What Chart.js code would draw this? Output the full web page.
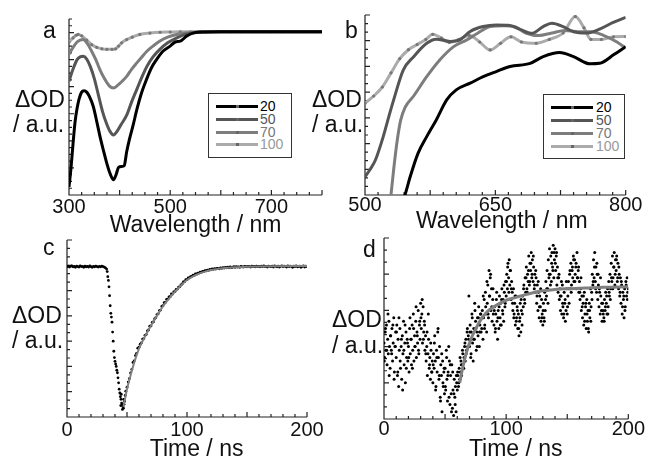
<!DOCTYPE html>
<html><head><meta charset="utf-8">
<script src="https://cdn.jsdelivr.net/npm/chart.js@4.4.1/dist/chart.umd.min.js"></script>
<style>
html,body{margin:0;padding:0;width:645px;height:459px;overflow:hidden;background:#fff;}
body{position:relative;font-family:"Liberation Sans",Arial,Helvetica,sans-serif;color:#111;}
canvas{position:absolute;}
.lbl{position:absolute;font-size:23px;line-height:23px;white-space:nowrap;}
.legend{position:absolute;border:1px solid #333;box-sizing:border-box;background:#fff;}
.row{position:absolute;left:0;height:13px;width:100%;}
.row .ln{position:absolute;width:42px;height:3px;top:5px;}
.row .dot{position:absolute;width:3px;height:3px;top:5px;background:#666;}
.row .tx{position:absolute;top:0;font-size:14px;line-height:13px;}
</style></head><body>
<canvas id="ca" width="330" height="240" style="left:0;top:0"></canvas>
<canvas id="cb" width="315" height="240" style="left:330px;top:0"></canvas>
<canvas id="cc" width="330" height="240" style="left:0;top:232px"></canvas>
<canvas id="cd" width="325" height="240" style="left:320px;top:232px"></canvas>

<div class="lbl" style="left:43px;top:18.5px">a</div>
<div class="lbl" style="left:15px;top:87.5px">ΔOD</div>
<div class="lbl" style="left:13px;top:112.5px">/ a.u.</div>

<div class="lbl" style="left:345px;top:18.5px">b</div>
<div class="lbl" style="left:312px;top:87.5px">ΔOD</div>
<div class="lbl" style="left:312px;top:112.5px">/ a.u.</div>

<div class="lbl" style="left:43px;top:235.5px">c</div>
<div class="lbl" style="left:12px;top:303.5px">ΔOD</div>
<div class="lbl" style="left:12px;top:328.5px">/ a.u.</div>

<div class="lbl" style="left:363px;top:237.5px">d</div>
<div class="lbl" style="left:332px;top:307.5px">ΔOD</div>
<div class="lbl" style="left:332px;top:333.5px">/ a.u.</div>

<div class="legend" id="legA" style="left:208px;top:93px;width:84px;height:65px"></div>
<div class="legend" id="legB" style="left:543px;top:94px;width:82px;height:65px"></div>

<script>
// ---------- series names / colours ----------
const seriesNames = ['20', '50', '70', '100'];
const seriesColors = ['#000000', '#555555', '#7d7d7d', '#ababab'];
const legendTextColors = ['#000000', '#555555', '#777777', '#999999'];

// ---------- panel a : wavelength 300-800 nm ----------
const a20_wl = [300,304,308,312,316,320,325,330,335,340,348,355,362,368,375,382,388,393,398,404,409,414,420,427,434,443,453,463,473,485,500,510,520,532,545,570,600,650,700,750,800];
const a20_od = [0.3,1.0,1.9,2.7,3.2,3.55,3.8,3.85,3.8,3.65,3.27,2.7,2.1,1.65,1.15,0.75,0.56,0.75,1.02,1.05,1.08,1.6,2.1,2.6,3.15,3.75,4.26,4.7,5.0,5.3,5.5,5.65,5.68,5.86,5.98,6.02,6.03,6.03,6.03,6.03,6.03];
const a50_wl = [300,308,316,322,328,335,342,350,358,366,374,381,388,395,403,414,424,434,444,454,466,479,495,513,530,550,580,620,700,800];
const a50_od = [4.2,4.65,5.0,5.1,5.12,5.02,4.75,4.3,3.7,3.1,2.65,2.35,2.22,2.35,2.6,2.95,3.45,3.9,4.35,4.75,5.1,5.37,5.62,5.8,5.93,6.0,6.03,6.03,6.03,6.03];
const a70_wl = [300,308,316,322,328,336,345,353,361,370,380,388,396,405,414,424,434,444,454,466,479,495,513,535,560,600,700,800];
const a70_od = [5.2,5.45,5.65,5.72,5.74,5.6,5.3,5.0,4.63,4.3,4.02,3.95,4.05,4.2,4.38,4.65,4.88,5.1,5.31,5.5,5.68,5.83,5.93,5.99,6.02,6.03,6.03,6.03];
const a100_wl = [300,308,314,318,325,335,345,355,365,375,385,392,398,404,414,425,440,460,480,500,520,540,560,580,600,620,640,660,680,700,720,740,760,780,800];
const a100_od = [5.65,5.8,5.9,5.93,5.88,5.72,5.55,5.45,5.4,5.38,5.38,5.4,5.5,5.62,5.74,5.83,5.93,5.98,6.01,6.02,6.03,6.03,6.03,6.03,6.03,6.03,6.03,6.03,6.03,6.03,6.03,6.03,6.03,6.03,6.03];
const aTickLabels = [300, 500, 700];

// ---------- panel b : wavelength 500-800 nm ----------
const b20_wl = [540,546,552,561,571,582,594,605,621,636,651,667,690,705,724,740,759,770,786,800];
const b20_od = [-0.6,0,0.71,1.62,2.27,2.92,3.7,4.09,4.35,4.6,4.8,5.0,5.12,5.38,5.54,5.38,5.1,5.12,5.45,5.77];
const b50_wl = [500,506,512,521,527,533,544,556,571,582,598,609,621,636,651,665,678,692,705,715,728,740,755,770,785,800];
const b50_od = [0.71,1.0,1.36,2.27,3.0,3.7,4.86,5.38,5.9,6.06,5.97,6.03,6.36,6.55,6.61,6.6,6.45,6.29,6.55,6.68,6.55,6.35,6.3,6.45,6.7,6.91];
const b70_wl = [529,533,537,541,546,556,571,586,602,617,630,644,660,672,685,700,715,730,745,760,775,790,800];
const b70_od = [-0.3,1.0,2.1,2.9,3.4,3.85,4.6,5.25,5.77,6.03,6.3,6.55,6.58,6.55,6.3,6.2,6.3,6.4,6.35,6.35,6.2,5.95,5.71];
const b100_wl = [500,510,520,530,540,550,560,570,578,588,597,608,620,632,644,656,668,680,697,712,728,742,752,760,772,786,800];
const b100_od = [3.57,3.85,4.2,4.75,5.3,5.65,5.85,6.05,6.25,6.1,5.93,6.05,6.2,5.95,5.64,5.9,6.15,5.95,5.9,6.05,6.3,6.94,6.5,6.05,6.05,6.15,6.16];
const bTickLabels = [500, 650, 800];

// ---------- panel c : kinetic trace (1 ns sampling, 0-200 ns) ----------
const cStep = 1;
const cSignal = [
5.95,5.97,5.93,5.96,5.98,5.94,5.96,5.92,5.97,5.95,
5.93,5.98,5.95,5.96,5.92,5.97,5.94,5.96,5.93,5.98,
5.95,5.92,5.96,5.94,5.97,5.95,5.93,5.96,5.94,5.97,
5.95,5.93,5.9,5.85,5.55,5.15,4.4,3.95,3.36,2.6,
2.2,2.0,1.75,1.35,0.95,0.7,0.5,0.35,0.62,1.02,
1.18,1.38,1.52,1.74,1.88,2.16,2.22,2.43,2.52,2.72,
2.76,2.88,2.93,3.08,3.1,3.23,3.26,3.41,3.44,3.59,
3.6,3.74,3.76,3.88,3.93,4.05,4.08,4.21,4.23,4.37,
4.4,4.52,4.53,4.65,4.66,4.75,4.76,4.87,4.86,4.95,
4.96,5.05,5.06,5.14,5.15,5.22,5.26,5.34,5.35,5.43,
5.43,5.5,5.5,5.55,5.56,5.61,5.6,5.66,5.65,5.69,
5.69,5.73,5.72,5.76,5.75,5.79,5.78,5.81,5.8,5.84,
5.82,5.86,5.84,5.87,5.85,5.88,5.87,5.86,5.9,5.88,
5.91,5.89,5.92,5.9,5.93,5.9,5.94,5.91,5.92,5.95,
5.92,5.95,5.93,5.94,5.92,5.96,5.94,5.93,5.96,5.95,
5.94,5.96,5.95,5.93,5.97,5.95,5.96,5.94,5.97,5.95,
5.96,5.94,5.97,5.95,5.98,5.95,5.96,5.93,5.97,5.96,
5.95,5.97,5.93,5.98,5.96,5.94,5.97,5.93,5.96,5.98,
5.95,5.97,5.96,5.93,5.98,5.95,5.97,5.96,5.92,5.97,
5.95,5.98,5.94,5.96,5.97,5.92,5.96,5.98,5.93,5.97,5.95];
const cDropTime = [33.5,34.5,35.5,36.5,37.5,38.5,39.5,40.5,41.5,42.5,43.5,44.5,45.5,46.5,47.5,48.5,45.2,46.2,47.2,44.8];
const cDropSignal = [5.75,5.4,4.8,4.1,3.75,3.0,2.35,2.1,1.85,1.55,1.1,0.8,0.55,0.42,0.5,0.85,0.9,0.3,0.7,0.45];
const cFitTime = [47,50,53,56,60,64,68,72,76,80,85,90,95,100,105,110,115,120,130,140,150,170,200];
const cFitSignal = [0.4,1.1,1.65,2.15,2.7,3.1,3.45,3.78,4.08,4.38,4.68,4.96,5.2,5.42,5.56,5.67,5.75,5.81,5.88,5.92,5.94,5.96,5.97];
const timeTickLabels = [0, 100, 200];

// ---------- panel d : kinetic trace (0.5 ns sampling, 0-200 ns) ----------
const dStep = 0.5;
const dSignal = [
2.1,1.7,2.4,1.9,2.6,1.5,2.2,1.8,2.7,2.0,1.4,2.3,1.9,2.5,1.6,2.1,2.8,1.3,2.0,2.4,
1.7,2.6,1.2,2.2,0.9,1.9,2.5,1.4,2.0,1.1,2.3,1.8,2.7,1.5,2.1,1.0,2.4,1.7,2.2,1.6,
2.0,1.3,2.5,1.8,2.2,1.5,2.6,1.9,2.9,1.6,2.3,2.0,2.7,1.7,2.4,2.1,3.0,1.8,2.6,2.2,
3.2,2.5,2.9,2.1,3.1,2.4,2.7,1.9,2.3,1.6,2.0,1.2,1.8,2.2,1.4,1.7,1.1,1.9,1.3,1.6,
1.0,1.8,1.4,2.3,1.6,0.9,1.9,1.3,2.4,1.7,1.1,2.0,0.6,1.5,1.2,0.2,1.6,0.9,1.3,0.7,
1.4,0.8,1.9,1.1,0.5,1.3,2.0,1.6,0.4,1.2,0.7,1.5,0.3,0.8,0.1,1.1,0.6,0.9,0.2,1.0,
0.8,1.2,0.9,1.4,1.1,1.3,1.6,1.2,1.5,1.8,1.4,1.7,2.0,1.6,2.2,1.9,2.4,2.0,2.3,3.4,
2.0,2.6,1.7,2.4,2.9,2.1,1.6,2.5,2.2,3.0,2.7,1.9,2.4,2.8,2.3,3.1,2.0,2.6,2.9,2.4,
2.5,3.0,2.2,2.8,3.3,2.6,3.5,2.9,2.4,3.2,3.7,2.8,4.1,3.4,3.9,3.0,3.6,2.7,3.3,2.9,
2.6,3.1,2.4,2.9,3.3,2.7,2.2,3.0,2.5,3.4,2.8,3.2,2.6,3.6,3.0,3.3,2.7,3.5,3.1,3.8,
3.4,4.0,3.6,4.3,3.9,4.4,3.7,4.1,3.3,3.8,3.5,3.0,3.6,2.9,3.2,2.6,3.4,2.8,3.1,2.5,
2.9,2.3,2.7,3.2,2.4,3.0,2.6,3.4,3.1,3.7,3.3,3.9,3.5,4.2,3.6,4.0,3.8,4.5,3.7,4.3,
4.1,4.6,3.9,4.4,3.8,4.2,3.6,4.0,3.5,3.9,3.2,3.7,3.0,3.5,2.8,3.4,3.1,2.7,3.3,2.9,
2.6,3.2,2.8,3.5,3.0,3.8,3.4,4.1,3.6,4.4,3.9,4.7,4.0,4.5,3.8,4.6,4.2,4.8,3.9,4.4,
4.7,4.1,4.5,3.7,4.2,3.5,3.9,3.3,3.6,3.0,3.4,2.9,3.7,3.1,2.8,3.5,3.2,2.7,3.0,3.6,
2.9,3.4,3.8,3.2,4.0,3.6,4.3,3.7,4.1,3.9,4.5,3.8,4.4,4.0,4.2,3.6,4.6,3.9,4.1,3.5,
3.8,3.3,3.6,3.0,3.4,2.8,3.2,2.6,3.5,2.9,3.1,2.5,3.3,2.7,3.0,2.4,3.2,2.8,3.6,3.1,
3.5,4.0,3.7,4.4,3.9,4.6,3.8,4.2,3.5,4.0,3.3,3.7,3.1,3.5,2.9,3.4,3.0,2.7,3.2,2.9,
2.8,3.3,3.0,3.5,3.2,2.9,3.6,3.1,3.8,3.4,4.0,3.6,4.3,3.8,4.5,3.9,4.2,4.6,3.7,4.4,
4.1,4.5,3.8,4.3,3.6,4.0,3.4,3.9,3.2,3.7,2.9,3.5,3.3,2.8,3.6,3.1,3.8,3.4,3.9,3.5,
3.6];
// second interleaved read-out of the same trace (t = 0.25, 1.25, ... ns)
const dStart2 = 0.25;
const dStep2 = 1;
const dSignal2 = [
1.6,2.5,1.9,2.9,1.2,2.3,1.8,2.6,1.1,2.0,
2.4,1.3,2.8,1.6,2.2,0.8,1.9,2.6,1.4,2.1,
1.7,2.8,2.2,1.4,2.5,2.0,3.1,2.3,1.9,2.7,
2.8,3.3,2.2,2.6,1.8,2.4,2.9,1.5,2.1,1.3,
1.5,2.1,0.8,1.7,2.5,1.2,0.5,1.8,1.0,1.4,
0.9,1.7,1.2,0.6,1.5,0.2,1.3,0.7,0.4,1.2,
1.3,1.0,1.7,1.5,1.9,1.4,2.1,1.8,2.5,2.2,
2.4,1.8,2.8,2.2,3.2,2.5,2.0,2.8,2.4,2.9,
2.8,3.4,2.5,3.1,3.8,2.9,3.4,4.0,3.1,3.6,
3.0,2.5,3.5,2.8,3.1,2.6,3.3,2.9,3.7,3.2,
3.8,4.2,3.5,4.1,3.6,3.2,2.8,3.4,2.7,3.0,
2.5,2.8,3.3,2.9,3.6,3.2,3.9,3.5,4.1,3.8,
4.3,4.0,4.5,3.7,4.1,3.4,3.8,3.1,3.6,2.8,
3.0,2.7,3.3,3.6,3.2,4.0,3.7,4.3,4.1,4.6,
4.3,4.6,3.9,4.0,3.4,3.8,3.2,2.9,3.3,3.8,
3.1,3.6,4.1,3.5,4.2,4.4,3.8,4.3,3.9,4.2,
3.5,3.9,3.1,3.4,2.7,3.2,2.9,2.5,3.0,2.7,
3.3,3.8,4.2,3.6,4.3,4.0,3.6,3.9,3.2,3.0,
2.7,3.1,3.4,2.9,3.5,3.3,3.9,3.6,4.2,4.0,
4.4,3.9,4.2,3.5,3.8,3.1,3.4,3.0,3.7,3.3];
const dFitTime = [62,64,66,68,70,73,76,80,85,90,95,100,108,115,122,130,140,150,165,180,200];
const dFitSignal = [1.0,1.35,1.65,1.9,2.1,2.35,2.55,2.78,2.98,3.1,3.2,3.28,3.36,3.43,3.49,3.54,3.58,3.6,3.62,3.64,3.65];

// ---------- helpers ----------
const FONT = '"Liberation Sans", Arial, Helvetica, sans-serif';
Chart.defaults.font.family = FONT;
Chart.defaults.color = '#111';

const pairs = (xs, ys) => xs.map((x, i) => ({x: x, y: ys[i]}));
const sampled = (ys, step, start) => ys.map((y, i) => ({x: (start || 0) + i * step, y: y}));

const axesPlugin = {
  id: 'panelAxes',
  beforeDatasetsDraw(chart, args, o) {
    const {ctx, chartArea: ca, scales: {x, y}} = chart;
    ctx.save();
    ctx.strokeStyle = '#222';
    ctx.lineWidth = 1.2;
    ctx.beginPath();
    ctx.moveTo(ca.left, ca.top);
    ctx.lineTo(ca.left, ca.bottom);
    ctx.lineTo(ca.right, ca.bottom);
    const run = (scale, minor, major, fn) => {
      const n = Math.round((scale.max - scale.min) / minor);
      for (let i = 0; i <= n; i++) {
        const v = scale.min + i * minor;
        const r = (v - scale.min) / major;
        const isMajor = Math.abs(r - Math.round(r)) < 1e-6;
        fn(scale.getPixelForValue(v), isMajor ? 5 : 3);
      }
    };
    run(x, o.xMinor, o.xMajor, (p, len) => { ctx.moveTo(p, ca.bottom); ctx.lineTo(p, ca.bottom - len); });
    run(y, o.yMinor, o.yMajor, (p, len) => { ctx.moveTo(ca.left, p); ctx.lineTo(ca.left + len, p); });
    ctx.stroke();
    ctx.restore();
  }
};

function lineDs(xs, ys, idx, withDots) {
  return {
    data: pairs(xs, ys),
    borderColor: seriesColors[idx], borderWidth: 3, fill: false,
    cubicInterpolationMode: 'monotone',
    pointRadius: withDots ? 1.6 : 0, pointBackgroundColor: '#777', pointBorderWidth: 0
  };
}
function dotsDs(data, r) {
  return {data: data, showLine: false, pointRadius: r, pointBackgroundColor: '#000', pointBorderWidth: 0};
}
function fitDs(xs, ys, w) {
  return {data: pairs(xs, ys), borderColor: '#808080', borderWidth: w, pointRadius: 0, fill: false, cubicInterpolationMode: 'monotone'};
}

function makePanel(id, c) {
  return new Chart(document.getElementById(id), {
    type: 'line',
    data: {datasets: c.datasets},
    options: {
      responsive: false, animation: false, devicePixelRatio: 1, events: [],
      layout: {padding: {left: c.pad[0], top: c.pad[1], right: c.pad[2], bottom: 0}},
      plugins: {legend: {display: false}, tooltip: {enabled: false}, panelAxes: c.axes},
      scales: {
        x: {
          type: 'linear', min: c.xMin, max: c.xMax,
          grid: {display: false, drawTicks: false}, border: {display: false},
          ticks: {font: {size: 20, lineHeight: 1}, color: '#111', padding: c.tickPad,
                  maxRotation: 0, minRotation: 0, autoSkip: false, callback: v => String(v)},
          afterBuildTicks: s => { s.ticks = c.xLabels.map(v => ({value: v})); },
          afterFit: s => { s.height = c.xHeight; },
          title: {display: true, text: c.xTitle, color: '#111',
                  font: {size: 23, lineHeight: 1}, padding: {top: 0, bottom: c.titlePad}}
        },
        y: {type: 'linear', display: false, min: c.yMin, max: c.yMax}
      }
    },
    plugins: [axesPlugin]
  });
}

// panel a
makePanel('ca', {
  datasets: [lineDs(a20_wl, a20_od, 0), lineDs(a50_wl, a50_od, 1), lineDs(a70_wl, a70_od, 2), lineDs(a100_wl, a100_od, 3, true)],
  pad: [69, 19, 8], xHeight: 45, tickPad: 2.5, titlePad: 2.5,
  xMin: 300, xMax: 800, yMin: 0, yMax: 6.5, xLabels: aTickLabels, xTitle: 'Wavelength / nm',
  axes: {xMinor: 25, xMajor: 100, yMinor: 0.25, yMajor: 1}
});
// panel b
makePanel('cb', {
  datasets: [lineDs(b20_wl, b20_od, 0), lineDs(b50_wl, b50_od, 1), lineDs(b70_wl, b70_od, 2), lineDs(b100_wl, b100_od, 3, true)],
  pad: [35, 15, 19.3], xHeight: 45, tickPad: 0, titlePad: 6.8,
  xMin: 500, xMax: 800, yMin: 0, yMax: 7, xLabels: bTickLabels, xTitle: '  Wavelength / nm',
  axes: {xMinor: 15, xMajor: 75, yMinor: 1/3, yMajor: 1}
});
// panel c
makePanel('cc', {
  datasets: [fitDs(cFitTime, cFitSignal, 2), dotsDs(sampled(cSignal, cStep), 1.4), dotsDs(pairs(cDropTime, cDropSignal), 1.4)],
  pad: [67, 8, 23], xHeight: 55, tickPad: 3.5, titlePad: 11,
  xMin: 0, xMax: 200, yMin: 0, yMax: 7, xLabels: timeTickLabels, xTitle: '   Time / ns',
  axes: {xMinor: 10, xMajor: 50, yMinor: 1/3, yMajor: 1}
});
// panel d
makePanel('cd', {
  datasets: [fitDs(dFitTime, dFitSignal, 3), dotsDs(sampled(dSignal, dStep), 1.5), dotsDs(sampled(dSignal2, dStep2, dStart2), 1.5)],
  pad: [64, 6, 16], xHeight: 53, tickPad: 0, titlePad: 10.5,
  xMin: 0, xMax: 200, yMin: 0, yMax: 5, xLabels: timeTickLabels, xTitle: '   Time / ns',
  axes: {xMinor: 10, xMajor: 50, yMinor: 1/3, yMajor: 1}
});

// legends (HTML, real text)
function buildLegend(id, rowTops, lineLeft, textLeft) {
  const box = document.getElementById(id);
  seriesNames.forEach((name, i) => {
    const row = document.createElement('div');
    row.className = 'row';
    row.style.top = rowTops[i] + 'px';
    const ln = document.createElement('div');
    ln.className = 'ln'; ln.style.left = lineLeft + 'px'; ln.style.background = seriesColors[i];
    const dot = document.createElement('div');
    dot.className = 'dot'; dot.style.left = (lineLeft + 20) + 'px';
    const tx = document.createElement('div');
    tx.className = 'tx'; tx.style.left = textLeft + 'px'; tx.style.color = legendTextColors[i];
    tx.textContent = name;
    row.appendChild(ln); row.appendChild(dot); row.appendChild(tx);
    box.appendChild(row);
  });
}
buildLegend('legA', [5.5, 18.5, 31.5, 43.5], 7, 51);
buildLegend('legB', [6, 18.5, 31.5, 44.5], 7, 52);
</script>
</body></html>
